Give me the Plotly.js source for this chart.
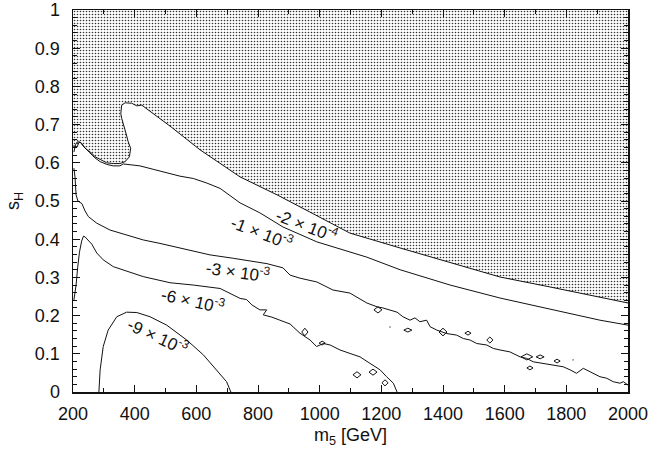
<!DOCTYPE html>
<html>
<head>
<meta charset="utf-8">
<script src="https://cdn.plot.ly/plotly-3.0.1.min.js"></script>
<style>
  html, body { margin: 0; padding: 0; background: #fff; }
  #chart { width: 654px; height: 457px; }
</style>
</head>
<body>
<div id="chart"></div>
<script>
// Contours of the coupling shift in the (m5, sH) plane.
// Each contour is a polyline: m5 in GeV, sH dimensionless.

// -2e-4 contour; also the lower edge of the excluded (dotted) region
const c2e4_m5 = [200,214,218.5,225,231.5,244,261,271,288,309,331,352,369,383,387,379,372,365,358,355,358,369,390,407,423,518,612,742,862,978,1098,1261,1423,1585,1747,1909,2000];
const c2e4_sH = [0.644,0.642,0.653,0.653,0.645,0.635,0.625,0.616,0.609,0.600,0.598,0.598,0.603,0.616,0.638,0.655,0.677,0.695,0.716,0.729,0.751,0.757,0.756,0.749,0.751,0.694,0.634,0.563,0.516,0.467,0.416,0.377,0.338,0.301,0.275,0.249,0.233];

// -1e-3 contour
const c1e3_m5 = [203,208,213,220,228,239,255,271,288,309,330,352,363,417,460,504,547,590,634,677,742,806,881,991,1153,1261,1368,1423,1585,1747,1909,2000];
const c1e3_sH = [0.628,0.647,0.654,0.655,0.651,0.639,0.626,0.613,0.603,0.596,0.592,0.592,0.597,0.592,0.583,0.574,0.565,0.559,0.547,0.533,0.495,0.469,0.432,0.393,0.353,0.320,0.293,0.280,0.246,0.217,0.188,0.175];

// -3e-3 contour
const c3e3_m5 = [203,206.5,210,216,229,239,250,277,320,374,428,482,569,644,720,806,829,881,904,936,991,1043,1098,1153,1186,1205,1251,1270,1293,1309,1325,1347,1358,1380,1412,1444,1466,1488,1509,1542,1563,1585,1617,1650,1671,1693,1725,1757,1790,1812,1833,1855,1887,1909,1931,1952,1974,1985,2000];
const c3e3_sH = [0.586,0.563,0.516,0.500,0.493,0.474,0.459,0.442,0.424,0.411,0.398,0.389,0.372,0.359,0.350,0.340,0.336,0.325,0.306,0.298,0.288,0.267,0.259,0.233,0.223,0.220,0.209,0.197,0.188,0.194,0.184,0.188,0.171,0.162,0.153,0.149,0.140,0.136,0.127,0.123,0.114,0.110,0.105,0.092,0.088,0.079,0.075,0.071,0.066,0.058,0.049,0.062,0.049,0.040,0.036,0.027,0.023,0.027,0.018];

// -6e-3 contour
const c6e3_m5 = [203,210,215,221,228,234,239,249,261,277,298,331,428,515,590,677,709,742,763,780,806,828,817,845,871,904,936,969,990,1012,1034,1066,1098,1131,1163,1196,1217,1239,1251];
const c6e3_sH = [0.241,0.280,0.325,0.366,0.395,0.408,0.406,0.398,0.387,0.364,0.346,0.328,0.302,0.286,0.280,0.271,0.258,0.245,0.242,0.228,0.215,0.215,0.202,0.196,0.188,0.178,0.154,0.136,0.119,0.127,0.123,0.110,0.101,0.092,0.075,0.058,0.040,0.023,0];

// -9e-3 contour
const c9e3_m5 = [284,285,288,298,314,342,374,407,450,504,569,623,666,698,712];
const c9e3_sH = [0,0.014,0.058,0.119,0.162,0.197,0.209,0.208,0.197,0.175,0.136,0.097,0.058,0.027,0];

// small closed contour pieces scattered around the noisy region (null separates loops)
const isl_m5 = [
  942,952,962,952,942,null,
  998,1008,1018,1008,998,null,
  1108,1121,1134,1121,1108,null,
  1160,1173,1186,1173,1160,null,
  1202,1212,1222,1212,1202,null,
  1176,1189,1202,1189,1176,null,
  1273,1286,1299,1286,1273,null,
  1387,1400,1413,1400,1387,null,
  1471,1481,1491,1481,1471,null,
  1542,1552,1562,1552,1542,null,
  1653,1672,1691,1672,1653,null,
  1702,1715,1728,1715,1702,null,
  1760,1770,1780,1770,1760,null,
  1672,1682,1692,1682,1672,null,
  1226,1230,null,
  1820,1824
];
const isl_sH = [
  0.157,0.167,0.157,0.147,0.157,null,
  0.128,0.133,0.128,0.123,0.128,null,
  0.045,0.053,0.045,0.037,0.045,null,
  0.052,0.060,0.052,0.044,0.052,null,
  0.024,0.032,0.024,0.016,0.024,null,
  0.215,0.223,0.215,0.207,0.215,null,
  0.162,0.167,0.162,0.157,0.162,null,
  0.157,0.167,0.157,0.147,0.157,null,
  0.154,0.159,0.154,0.149,0.154,null,
  0.136,0.144,0.136,0.128,0.136,null,
  0.092,0.100,0.092,0.084,0.092,null,
  0.092,0.097,0.092,0.087,0.092,null,
  0.081,0.086,0.081,0.076,0.081,null,
  0.063,0.068,0.063,0.058,0.063,null,
  0.170,0.170,null,
  0.084,0.084
];

// contour labels: text, anchor point and slant
const labelText  = ['-2 × 10<sup>-4</sup>', '-1 × 10<sup>-3</sup>', '-3 × 10<sup>-3</sup>', '-6 × 10<sup>-3</sup>', '-9 × 10<sup>-3</sup>'];
const labelM5    = [960, 813, 735, 590, 477];
const labelSH    = [0.438, 0.419, 0.317, 0.241, 0.147];
const labelAngle = [21, 21, 8, 12.5, 25];

const xRange = [200, 2000];
const yRange = [0, 1];

const FONT = 'Liberation Sans, Arial, Helvetica, sans-serif';
const lineStyle = { color: '#111', width: 1 };

function contour(x, y) {
  return { type: 'scatter', mode: 'lines', x: x, y: y, line: lineStyle, hoverinfo: 'skip', showlegend: false };
}

// excluded region: from the -2e-4 contour up to the top of the plot
const shade = {
  type: 'scatter', mode: 'lines',
  x: c2e4_m5.concat([xRange[1], xRange[0]]),
  y: c2e4_sH.concat([yRange[1], yRange[1]]),
  fill: 'toself',
  fillcolor: 'rgba(0,0,0,0)',
  fillpattern: { shape: '.', size: 3, solidity: 0.24, fgcolor: '#333', bgcolor: '#fff' },
  line: { width: 0 },
  hoverinfo: 'skip', showlegend: false
};

const data = [
  shade,
  contour(c2e4_m5, c2e4_sH),
  contour(c1e3_m5, c1e3_sH),
  contour(c3e3_m5, c3e3_sH),
  contour(c6e3_m5, c6e3_sH),
  contour(c9e3_m5, c9e3_sH),
  Object.assign(contour(isl_m5, isl_sH), { connectgaps: false })
];

const annotations = labelText.map((t, i) => ({
  text: t, x: labelM5[i], y: labelSH[i], xref: 'x', yref: 'y',
  showarrow: false, textangle: labelAngle[i],
  xanchor: 'center', yanchor: 'middle',
  font: { family: FONT, size: 17, color: '#111' }
}));

const axisCommon = {
  showgrid: false, zeroline: false,
  showline: true, linecolor: '#111', linewidth: 1.5,
  mirror: 'ticks', ticks: 'inside', ticklen: 7, tickwidth: 1, tickcolor: '#111',
  tickfont: { family: FONT, size: 18, color: '#111' }
};

const layout = {
  width: 654, height: 457,
  margin: { l: 73, r: 26, t: 10, b: 65 },
  paper_bgcolor: '#fff', plot_bgcolor: '#fff',
  xaxis: Object.assign({}, axisCommon, {
    range: xRange, dtick: 200, tick0: 200,
    minor: { dtick: 100, ticks: 'inside', ticklen: 4, tickcolor: '#111' },
    ticklabelstandoff: 5,
    title: { text: 'm<sub>5</sub> [GeV]', font: { family: FONT, size: 18, color: '#111' }, standoff: 5 }
  }),
  yaxis: Object.assign({}, axisCommon, {
    range: yRange, dtick: 0.1,
    minor: { dtick: 0.02, ticks: 'inside', ticklen: 4, tickcolor: '#111' },
    ticklabelstandoff: 8,
    title: { text: 's<sub>H</sub>', font: { family: FONT, size: 18, color: '#111' }, standoff: 10 }
  }),
  annotations: annotations,
  showlegend: false
};

Plotly.newPlot('chart', data, layout, { displayModeBar: false, staticPlot: true });
</script>
</body>
</html>
